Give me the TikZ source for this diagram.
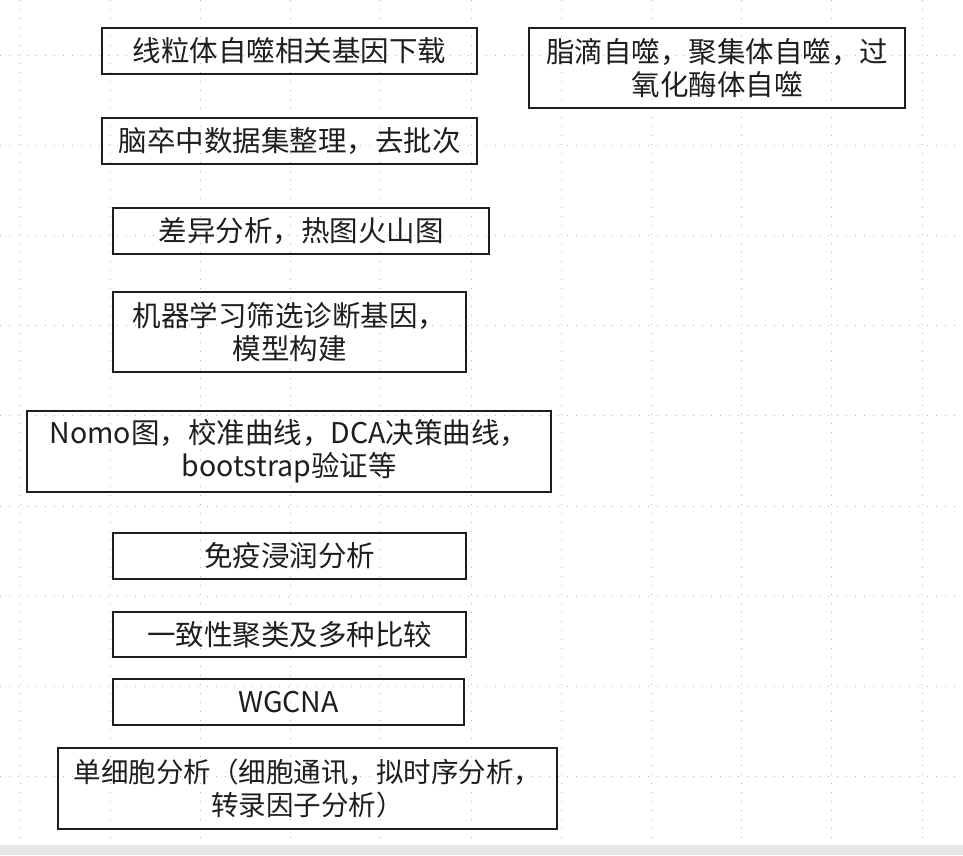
\documentclass[tikz,border=0pt]{standalone}
\usepackage{fontspec}
\setmainfont{Noto Sans CJK SC}
\usepackage{xcolor}
\definecolor{ink}{HTML}{1E1E1E}
\definecolor{gridc}{HTML}{B5B5B5}
\definecolor{barc}{HTML}{E6E6E6}
\tikzset{stage/.style={draw=ink,line width=1.4pt,inner sep=0pt,rectangle},
lab/.style={font=\fontsize{28.5}{33}\selectfont,text=ink,align=center},
gridline/.style={gridc,line width=1pt,dash pattern=on 1pt off 8pt}}

\begin{document}
\begin{tikzpicture}[x=1pt,y=-1pt]
\useasboundingbox (0,0) rectangle (963,855);
\fill[white] (0,0) rectangle (963,855);
% background grid
\foreach \gx in {20,110.2,...,930} \draw[gridline] (\gx,0) -- (\gx,845);
\foreach \gy in {55,145.2,...,800} \draw[gridline] (0,\gy) -- (963,\gy);
\fill[barc] (0,845) rectangle (963,855);
\node[stage,lab,minimum width=375pt,minimum height=46pt] (genes) at (289.5,51) {线粒体自噬相关基因下载};
\node[stage,lab,minimum width=376pt,minimum height=80pt] (other) at (717,68) {脂滴自噬，聚集体自噬，过\\氧化酶体自噬};
\node[stage,lab,minimum width=375pt,minimum height=46pt] (data) at (289.5,141) {脑卒中数据集整理，去批次};
\node[stage,lab,minimum width=376pt,minimum height=46pt] (diff) at (301,231) {差异分析，热图火山图};
\node[stage,lab,minimum width=353pt,minimum height=80pt] (ml) at (289.5,332) {机器学习筛选诊断基因，\\模型构建};
\node[stage,lab,minimum width=524pt,minimum height=81pt] (nomo) at (289,451.5) {Nomo图，校准曲线，DCA决策曲线，\\bootstrap验证等};
\node[stage,lab,minimum width=353pt,minimum height=46pt] (immune) at (289.5,556) {免疫浸润分析};
\node[stage,lab,minimum width=353pt,minimum height=45pt] (cluster) at (289.5,634.5) {一致性聚类及多种比较};
\node[stage,lab,minimum width=351pt,minimum height=46pt] (wgcna) at (288.5,702) {WGCNA};
\node[stage,lab,font=\fontsize{27.5}{33}\selectfont,minimum width=499pt,minimum height=81pt] (single) at (307.5,788.5) {单细胞分析（细胞通讯，拟时序分析，\\转录因子分析）};
\end{tikzpicture}
\end{document}
